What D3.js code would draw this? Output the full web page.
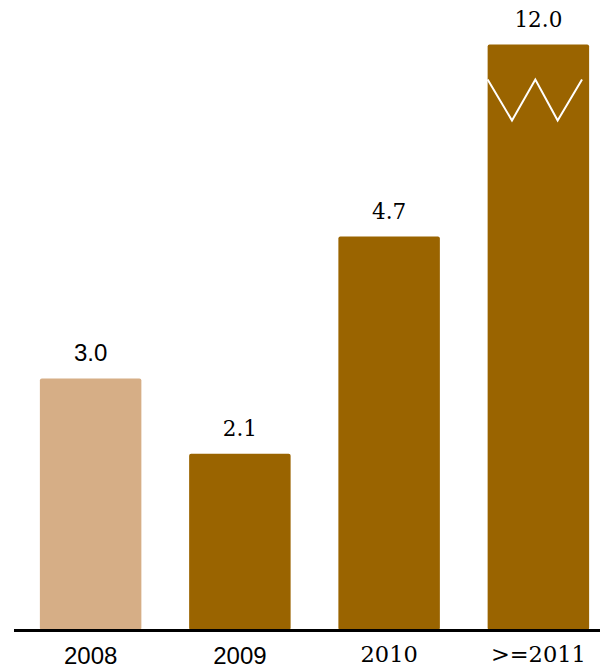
<!DOCTYPE html>
<html><head><meta charset="utf-8">
<script src="https://cdn.jsdelivr.net/npm/d3@7"></script>
<style>html,body{margin:0;padding:0;background:#fff;}</style>
</head><body>
<svg id="chart" width="600" height="672"></svg>
<script>
const categories = ["2008", "2009", "2010", ">=2011"];
const values = [3.0, 2.1, 4.7, 12.0];
const valueLabels = ["3.0", "2.1", "4.7", "12.0"];
const brokenIndex = 3;

const SANS = "'Liberation Sans', Arial, sans-serif";
const SERIF = "'DejaVu Serif', serif";
const catFont = [SANS, SANS, SERIF, SERIF];
const catSize = [24, 24, 22.5, 22.5];
const valFont = [SANS, SERIF, SERIF, SERIF];
const valSize = [24, 21.5, 21.5, 21.5];
const barColor = ["#D6AE86", "#9A6400", "#9A6400", "#9A6400"];

const svg = d3.select("#chart");
const baseY = 629;
const x = d3.scaleBand().domain(categories).range([16, 613]).paddingInner(0.32).paddingOuter(0.16);
const y = d3.scaleLinear().domain([0, 7]).range([baseY, 44.5]).clamp(true);

const g = svg.append("g");
g.selectAll("rect.bar").data(values).join("rect")
  .attr("class", "bar")
  .attr("x", (d, i) => x(categories[i]))
  .attr("y", d => y(d))
  .attr("width", x.bandwidth())
  .attr("height", d => baseY - y(d) + 1)
  .attr("rx", 2)
  .attr("fill", (d, i) => barColor[i]);

// break zigzag on the truncated bar
{
  const bx = x(categories[brokenIndex]), bw = x.bandwidth();
  const yTop = y(7) + 35, yBot = y(7) + 76;
  const pts = [0, 0.24, 0.47, 0.69, 0.93].map((f, k) => [bx + f * bw, k % 2 === 0 ? yTop : yBot]);
  g.append("path")
    .attr("d", d3.line()(pts))
    .attr("fill", "none")
    .attr("stroke", "#fff")
    .attr("stroke-width", 2);
}

g.selectAll("text.val").data(values).join("text")
  .attr("class", "val")
  .attr("x", (d, i) => x(categories[i]) + x.bandwidth() / 2)
  .attr("y", d => y(d) - 18)
  .attr("text-anchor", "middle")
  .attr("font-family", (d, i) => valFont[i])
  .attr("font-size", (d, i) => valSize[i])
  .attr("fill", "#000")
  .text((d, i) => valueLabels[i]);

const axis = svg.append("g")
  .attr("transform", `translate(0,${baseY + 1.5})`)
  .call(d3.axisBottom(x).tickSize(0).tickSizeOuter(0).tickPadding(16));
axis.select(".domain").attr("d", "M14,0H600").attr("stroke", "#000").attr("stroke-width", 3);
axis.selectAll(".tick text")
  .attr("font-family", (d, i) => catFont[i])
  .attr("font-size", (d, i) => catSize[i])
  .attr("fill", "#000")
  .attr("dy", "0.71em");
</script>
</body></html>
